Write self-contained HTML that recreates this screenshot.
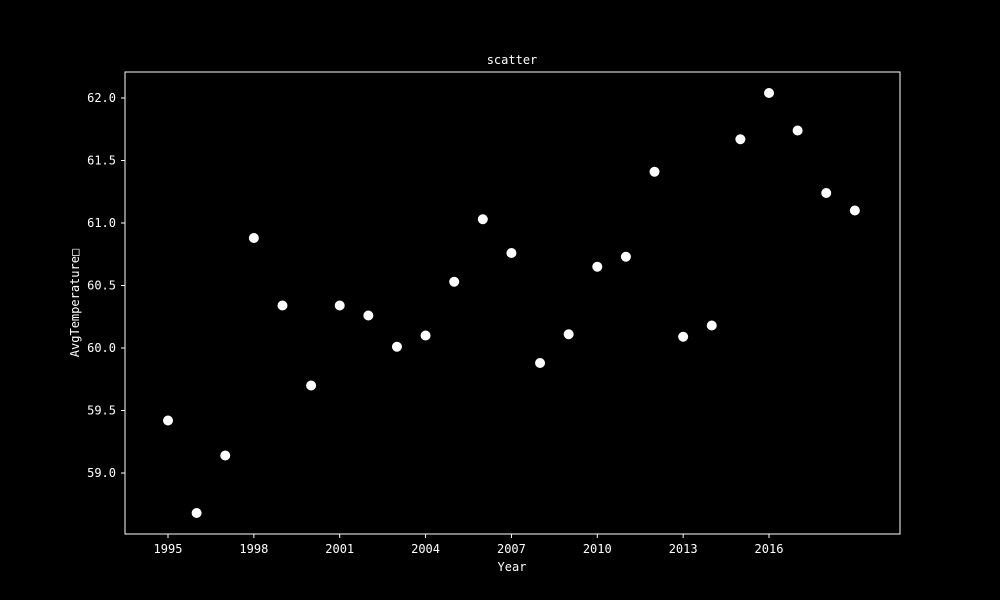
<!DOCTYPE html>
<html><head><meta charset="utf-8"><style>
html,body{margin:0;padding:0;background:#000;width:1000px;height:600px;overflow:hidden;}
svg{display:block;}
svg text{font-family:"WenQuanYi Zen Hei","DejaVu Sans Mono",monospace;fill:#fff;font-size:12px;}
</style></head><body>
<svg id="chart" width="1000" height="600">
<rect width="1000" height="600" fill="#000"/>
<text x="512" y="64" text-anchor="middle" font-size="14">scatter</text>
<rect x="125" y="72" width="775" height="462" fill="none" stroke="#fff" stroke-width="1"/>
<text x="512" y="571" text-anchor="middle">Year</text>
<text transform="translate(79,303) rotate(-90)" text-anchor="middle">AvgTemperature□</text>
<g id="xt"></g><g id="yt"></g><g id="pts"></g>
</svg>
<script>
const years=[1995,1996,1997,1998,1999,2000,2001,2002,2003,2004,2005,2006,2007,2008,2009,2010,2011,2012,2013,2014,2015,2016,2017,2018,2019];
const temps=[59.42,58.68,59.14,60.88,60.34,59.70,60.34,60.26,60.01,60.10,60.53,61.03,60.76,59.88,60.11,60.65,60.73,61.41,60.09,60.18,61.67,62.04,61.74,61.24,61.10];
const xTicks=[1995,1998,2001,2004,2007,2010,2013,2016];
const yTicks=[59.0,59.5,60.0,60.5,61.0,61.5,62.0];
const ns="http://www.w3.org/2000/svg";
function X(v){return 168+(v-1995)*(769-168)/21;}
function Y(v){return 98+(62-v)*125;}
const xt=document.getElementById('xt'),yt=document.getElementById('yt'),pts=document.getElementById('pts');
xTicks.forEach(t=>{
const l=document.createElementNS(ns,'line');
l.setAttribute('x1',X(t));l.setAttribute('x2',X(t));l.setAttribute('y1',534);l.setAttribute('y2',538);l.setAttribute('stroke','#fff');


xt.appendChild(l);
const tx=document.createElementNS(ns,'text');
tx.setAttribute('x',X(t));tx.setAttribute('y',553);tx.setAttribute('text-anchor','middle');tx.textContent=t;


xt.appendChild(tx);
});
yTicks.forEach(t=>{
const l=document.createElementNS(ns,'line');
l.setAttribute('x1',121);l.setAttribute('x2',125);l.setAttribute('y1',Y(t));l.setAttribute('y2',Y(t));l.setAttribute('stroke','#fff');


yt.appendChild(l);
const tx=document.createElementNS(ns,'text');
tx.setAttribute('x',116);tx.setAttribute('y',Y(t)+4);tx.setAttribute('text-anchor','end');tx.textContent=t.toFixed(1);


yt.appendChild(tx);
});
years.forEach((yr,i)=>{
const c=document.createElementNS(ns,'circle');
c.setAttribute('cx',X(yr));c.setAttribute('cy',Y(temps[i]));c.setAttribute('r',5);c.setAttribute('fill','#fff');


pts.appendChild(c);
});
</script>
</body></html>
